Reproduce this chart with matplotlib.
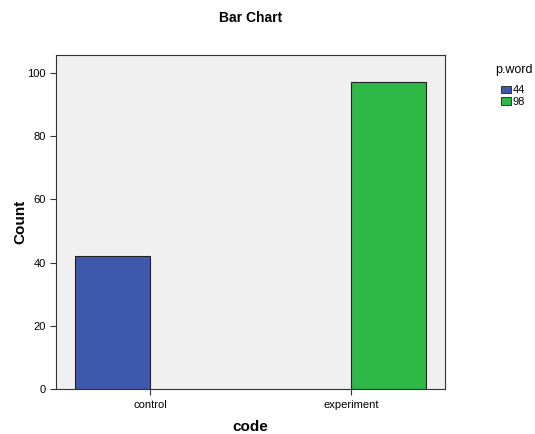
import numpy as np
import matplotlib
matplotlib.use('Agg')
import matplotlib.pyplot as plt
from matplotlib.patches import Patch

# data
categories = ['control', 'experiment']
series_names = ['44', '98']
counts_44 = [42, 0]
counts_98 = [0, 97]
colors = ['#3E58AC', '#2EB848']

plt.rcParams['font.family'] = ['Liberation Sans', 'DejaVu Sans']

fig = plt.figure(figsize=(5.35, 4.34), dpi=100)
ax = fig.add_axes([0.1047, 0.103, 0.727, 0.770])
ax.set_facecolor('#F0F0F0')

x = np.arange(len(categories))
width = 0.373
# clustered bars: 44 on the left of each category, 98 on the right
for i in range(len(categories)):
    if counts_44[i] > 0:
        ax.bar(x[i] - width / 2, counts_44[i], width, color=colors[0],
               edgecolor='#222222', linewidth=0.8)
    if counts_98[i] > 0:
        ax.bar(x[i] + width / 2, counts_98[i], width, color=colors[1],
               edgecolor='#222222', linewidth=0.8)

ax.set_xlim(-0.468, 1.468)
ax.set_ylim(0, 105.6)
ax.set_yticks([0, 20, 40, 60, 80, 100])
ax.set_xticks(x)
ax.set_xticklabels(categories)
ax.tick_params(axis='both', labelsize=8, length=4, width=0.8, color='#333333')
for s in ax.spines.values():
    s.set_color('#333333')
    s.set_linewidth(0.8)

ax.set_xlabel('code', fontsize=11, fontweight='bold')
ax.set_ylabel('Count', fontsize=11, fontweight='bold')
ax.xaxis.set_label_coords(0.5, -0.113)
ax.yaxis.set_label_coords(-0.092, 0.5)
ax.xaxis.label.set_va('center')
ax.yaxis.label.set_va('center')
fig.text(0.468, 0.958, 'Bar Chart', ha='center', va='center', fontsize=10, fontweight='bold')

# legend title drawn separately so the gap below it matches
fig.text(0.925, 0.839, 'p.word', ha='left', va='center', fontsize=9)
handles = [Patch(facecolor=colors[k], edgecolor='#222222', linewidth=0.6, label=series_names[k])
           for k in range(len(series_names))]
leg = fig.legend(handles=handles, loc='upper left',
                 bbox_to_anchor=(0.937, 0.803), frameon=False, fontsize=8,
                 handlelength=0.85, handleheight=0.7,
                 handletextpad=0.15, labelspacing=0.12, borderaxespad=0,
                 borderpad=0)

plt.savefig('out.png', dpi=100)
